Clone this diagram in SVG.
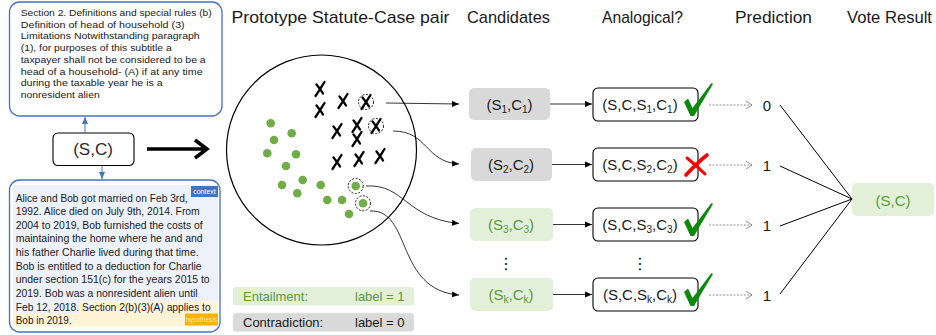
<svg xmlns="http://www.w3.org/2000/svg" width="936" height="335" viewBox="0 0 936 335">
<style>
text{font-family:"Liberation Sans",Arial,sans-serif;fill:#1a1a1a}
.hdr{font-size:17px}
.body1{font-size:9.5px}
.body2{font-size:10.3px}
.big{font-size:15px}
.grn{fill:#5B9A3B}
.gbox{fill:#E2F0D9}
.gray{fill:#D9D9D9}
.wbox{fill:#fff;stroke:#000;stroke-width:1.1}
.bluebox{fill:#fff;stroke:#4472C4;stroke-width:1.3}
.dot{fill:#70AD47}
.dc{fill:none;stroke:#000;stroke-width:0.9;stroke-dasharray:2 1.5}
.xm{fill:none;stroke:#000;stroke-width:2.3;stroke-linecap:round}
.conn{fill:none;stroke:#000;stroke-width:0.8}
.dash{fill:none;stroke:#777;stroke-width:0.8;stroke-dasharray:2 1.5}
.vote{fill:none;stroke:#000;stroke-width:1}
.chk{fill:#0B8A0B}
.vd{fill:#1a1a1a}
</style>
<defs>
<marker id="af" markerUnits="userSpaceOnUse" markerWidth="8" markerHeight="7" refX="7" refY="3.5" orient="auto"><path d="M0,0.5 L7,3.5 L0,6.5 z" fill="#000"/></marker>
<marker id="ab" markerUnits="userSpaceOnUse" markerWidth="8" markerHeight="7" refX="7" refY="3.5" orient="auto"><path d="M0,0.5 L7,3.5 L0,6.5 z" fill="#4472C4"/></marker>
<marker id="ao" markerUnits="userSpaceOnUse" markerWidth="9" markerHeight="10" refX="7" refY="5" orient="auto"><path d="M1,1 L7,5 L1,9" fill="none" stroke="#777" stroke-width="0.8"/></marker>
<path id="xs" class="xm" d="M4.5,-7 C2,-3 -1,2 -4.5,7 M-3.5,-4.5 C-1.5,-2 1,1 3,4.5"/>
<path id="ck" d="M0,19 L4,15.5 L8.5,25 L27.5,0 L29,1 L10,33 L6.5,33 Z"/>
</defs>

<g id="headers">
<text class="hdr" x="231.5" y="23" textLength="218" lengthAdjust="spacingAndGlyphs">Prototype Statute-Case pair</text>
<text class="hdr" x="467" y="23" textLength="83" lengthAdjust="spacingAndGlyphs">Candidates</text>
<text class="hdr" x="602" y="23" textLength="81" lengthAdjust="spacingAndGlyphs">Analogical?</text>
<text class="hdr" x="735" y="23" textLength="77" lengthAdjust="spacingAndGlyphs">Prediction</text>
<text class="hdr" x="847" y="23" textLength="85" lengthAdjust="spacingAndGlyphs">Vote Result</text>
</g>

<g id="statute-box">
<rect class="bluebox" x="9.5" y="2" width="212.5" height="114" rx="10"/>
<text class="body1" x="20.7" y="16" textLength="191" lengthAdjust="spacingAndGlyphs">Section 2. Definitions and special rules (b)</text>
<text class="body1" x="20.7" y="27.7" textLength="164" lengthAdjust="spacingAndGlyphs">Definition of head of household (3)</text>
<text class="body1" x="20.7" y="39.4" textLength="179" lengthAdjust="spacingAndGlyphs">Limitations Notwithstanding paragraph</text>
<text class="body1" x="20.7" y="51.1" textLength="151" lengthAdjust="spacingAndGlyphs">(1), for purposes of this subtitle a</text>
<text class="body1" x="20.7" y="62.8" textLength="185" lengthAdjust="spacingAndGlyphs">taxpayer shall not be considered to be a</text>
<text class="body1" x="20.7" y="74.5" textLength="182" lengthAdjust="spacingAndGlyphs">head of a household- (A) if at any time</text>
<text class="body1" x="20.7" y="86.2" textLength="142" lengthAdjust="spacingAndGlyphs">during the taxable year he is a</text>
<text class="body1" x="20.7" y="97.9" textLength="79" lengthAdjust="spacingAndGlyphs">nonresident alien</text>
</g>

<g id="node-sc">
<rect class="wbox" x="53" y="133" width="81" height="32.5" rx="5"/>
<text x="93" y="155" font-size="17" text-anchor="middle" style="fill:#2a2a2a">(S,C)</text>
</g>

<g id="case-box">
<rect class="bluebox" x="9.5" y="180" width="210.5" height="152" rx="10"/>
<path d="M13,185 H218 V301.5 H80 V313 H13 Z" fill="#EDF2FA"/>
<path d="M80,301.5 H218 V326.5 H13 V313 H80 Z" fill="#FFF4D6"/>
<text class="body2" x="15.7" y="201.5" textLength="172" lengthAdjust="spacingAndGlyphs" font-size="9.8">Alice and Bob got married on Feb 3rd,</text>
<text class="body2" x="15.7" y="215.1" textLength="184" lengthAdjust="spacingAndGlyphs">1992. Alice died on July 9th, 2014. From</text>
<text class="body2" x="15.7" y="228.8" textLength="187" lengthAdjust="spacingAndGlyphs">2004 to 2019, Bob furnished the costs of</text>
<text class="body2" x="15.7" y="242.4" textLength="187" lengthAdjust="spacingAndGlyphs">maintaining the home where he and and</text>
<text class="body2" x="15.7" y="256" textLength="183" lengthAdjust="spacingAndGlyphs">his father Charlie lived during that time.</text>
<text class="body2" x="15.7" y="269.7" textLength="186" lengthAdjust="spacingAndGlyphs">Bob is entitled to a deduction for Charlie</text>
<text class="body2" x="15.7" y="283.3" textLength="194" lengthAdjust="spacingAndGlyphs">under section 151(c) for the years 2015 to</text>
<text class="body2" x="15.7" y="296.9" textLength="182" lengthAdjust="spacingAndGlyphs">2019. Bob was a nonresident alien until</text>
<text class="body2" x="15.7" y="310.5" textLength="195" lengthAdjust="spacingAndGlyphs">Feb 12, 2018. Section 2(b)(3)(A) applies to</text>
<text class="body2" x="15.7" y="324.2" textLength="56" lengthAdjust="spacingAndGlyphs">Bob in 2019.</text>
<rect x="191" y="186" width="27" height="11" fill="#4472C4"/>
<text x="204.5" y="194" font-size="7" text-anchor="middle" style="fill:#fff">context</text>
<rect x="185" y="313.5" width="33" height="12" fill="#F5B400"/>
<text x="201.5" y="321.8" font-size="6.5" text-anchor="middle" style="fill:#FFE9A8">hypothesis</text>
</g>

<g id="prototype-space">
<circle cx="321.5" cy="150" r="95" fill="none" stroke="#000" stroke-width="1.2"/>
<use href="#xs" x="320" y="89"/>
<use href="#xs" x="320" y="110"/>
<use href="#xs" x="343" y="101"/>
<use href="#xs" x="366" y="102"/>
<use href="#xs" x="337" y="131"/>
<use href="#xs" x="357" y="125"/>
<use href="#xs" x="357" y="139"/>
<use href="#xs" x="376" y="126"/>
<use href="#xs" x="337" y="162"/>
<use href="#xs" x="359" y="159"/>
<use href="#xs" x="380" y="156"/>
<circle class="dc" cx="366" cy="102" r="7.5"/>
<circle class="dc" cx="376" cy="126" r="7.5"/>
<circle class="dot" cx="270.7" cy="123.3" r="4.3"/>
<circle class="dot" cx="291.7" cy="133.3" r="4.3"/>
<circle class="dot" cx="274" cy="140" r="4.3"/>
<circle class="dot" cx="267.3" cy="153.3" r="4.3"/>
<circle class="dot" cx="296" cy="154.3" r="4.3"/>
<circle class="dot" cx="286" cy="166" r="4.3"/>
<circle class="dot" cx="302.7" cy="180" r="4.3"/>
<circle class="dot" cx="282" cy="185" r="4.3"/>
<circle class="dot" cx="297.3" cy="193.3" r="4.3"/>
<circle class="dot" cx="320.7" cy="185" r="4.3"/>
<circle class="dot" cx="327.3" cy="200" r="4.3"/>
<circle class="dot" cx="342" cy="200" r="4.3"/>
<circle class="dot" cx="355.7" cy="186" r="4.3"/>
<circle class="dot" cx="363" cy="203.3" r="4.3"/>
<circle class="dot" cx="349" cy="214" r="4.3"/>
<circle class="dc" cx="355.7" cy="186" r="7.5"/>
<circle class="dc" cx="363" cy="203.3" r="7.5"/>
</g>

<g id="cand-1"><rect class="gray" x="469" y="88" width="81" height="32" rx="5"/>
<text class="big" x="509.5" y="109.5" text-anchor="middle">(S<tspan font-size="10" dy="3">1</tspan><tspan dy="-3">,C</tspan><tspan font-size="10" dy="3">1</tspan><tspan dy="-3">)</tspan></text></g>
<g id="cand-2"><rect class="gray" x="471" y="148" width="81" height="33" rx="5"/>
<text class="big" x="511" y="170" text-anchor="middle">(S<tspan font-size="10" dy="3">2</tspan><tspan dy="-3">,C</tspan><tspan font-size="10" dy="3">2</tspan><tspan dy="-3">)</tspan></text></g>
<g id="cand-3"><rect class="gbox" x="470" y="208" width="83" height="33" rx="5"/>
<text class="big grn" x="511" y="230" text-anchor="middle">(S<tspan font-size="10" dy="3">3</tspan><tspan dy="-3">,C</tspan><tspan font-size="10" dy="3">3</tspan><tspan dy="-3">)</tspan></text></g>
<g id="cand-k"><rect class="gbox" x="470" y="278" width="83" height="33" rx="5"/>
<text class="big grn" x="511" y="300" text-anchor="middle">(S<tspan font-size="10" dy="3">k</tspan><tspan dy="-3">,C</tspan><tspan font-size="10" dy="3">k</tspan><tspan dy="-3">)</tspan></text></g>
<g id="vdots-1"><text class="vd" x="506" y="269" font-size="16" text-anchor="middle" style="font-family:'DejaVu Sans',sans-serif">⋮</text></g>

<g id="analog-1"><rect class="wbox" x="593" y="88" width="105" height="33" rx="5"/>
<text class="big" x="640" y="110" text-anchor="middle">(S,C,S<tspan font-size="10" dy="3">1</tspan><tspan dy="-3">,C</tspan><tspan font-size="10" dy="3">1</tspan><tspan dy="-3">)</tspan></text>
<use href="#ck" x="684" y="83" class="chk"/></g>
<g id="analog-2"><rect class="wbox" x="593" y="148" width="105" height="33" rx="5"/>
<text class="big" x="640" y="170" text-anchor="middle">(S,C,S<tspan font-size="10" dy="3">2</tspan><tspan dy="-3">,C</tspan><tspan font-size="10" dy="3">2</tspan><tspan dy="-3">)</tspan></text>
<path d="M707,155 Q697,163 686,175" fill="none" stroke="#F00" stroke-width="3.6" stroke-linecap="round"/>
<path d="M687,158 Q697,166 705,174" fill="none" stroke="#F00" stroke-width="3" stroke-linecap="round"/></g>
<g id="analog-3"><rect class="wbox" x="593" y="208" width="105" height="33" rx="5"/>
<text class="big" x="640" y="230" text-anchor="middle">(S,C,S<tspan font-size="10" dy="3">3</tspan><tspan dy="-3">,C</tspan><tspan font-size="10" dy="3">3</tspan><tspan dy="-3">)</tspan></text>
<use href="#ck" x="684" y="203" class="chk"/></g>
<g id="analog-k"><rect class="wbox" x="593" y="278" width="105" height="33" rx="5"/>
<text class="big" x="640" y="300" text-anchor="middle">(S,C,S<tspan font-size="10" dy="3">k</tspan><tspan dy="-3">,C</tspan><tspan font-size="10" dy="3">k</tspan><tspan dy="-3">)</tspan></text>
<use href="#ck" x="684" y="273" class="chk"/></g>
<g id="vdots-2"><text class="vd" x="640" y="269" font-size="16" text-anchor="middle" style="font-family:'DejaVu Sans',sans-serif">⋮</text></g>

<g id="predictions">
<text class="big" x="767" y="110.5" text-anchor="middle">0</text>
<text class="big" x="767" y="170.5" text-anchor="middle">1</text>
<text class="big" x="767" y="230.5" text-anchor="middle">1</text>
<text class="big" x="767" y="300.5" text-anchor="middle">1</text>
</g>

<g id="vote-result"><rect class="gbox" x="852" y="183" width="82" height="33" rx="5"/>
<text class="big grn" x="893" y="205.5" text-anchor="middle">(S,C)</text></g>

<g id="legend">
<rect class="gbox" x="233" y="287" width="181" height="18.5" rx="3"/>
<text class="grn" x="243" y="301" font-size="13">Entailment:</text>
<text class="grn" x="355" y="301" font-size="13">label = 1</text>
<rect x="233" y="313" width="181" height="18.5" rx="3" fill="#D9D9D9" stroke="#EBEBEB" stroke-width="0.8"/>
<text x="243" y="327" font-size="13">Contradiction:</text>
<text x="355" y="327" font-size="13">label = 0</text>
</g>

<g id="connectors">
<line x1="85" y1="133" x2="85" y2="117" stroke="#4472C4" stroke-width="1" marker-end="url(#ab)"/>
<line x1="102" y1="165.5" x2="102" y2="179" stroke="#4472C4" stroke-width="1" marker-end="url(#ab)"/>
<path d="M147,149 H206 M195,140 L207,149 L195,158" fill="none" stroke="#000" stroke-width="3.5" stroke-linejoin="miter"/>
<path class="conn" d="M386,103 L459,104" marker-end="url(#af)"/>
<path class="conn" d="M393,131 C428,131 425,162 459,164" marker-end="url(#af)"/>
<path class="conn" d="M366,186 C405,184 405,218 459,223.5" marker-end="url(#af)"/>
<path class="conn" d="M370,211 C412,209 395,290 459,295" marker-end="url(#af)"/>
<line class="conn" x1="550" y1="104" x2="592" y2="104" marker-end="url(#af)"/>
<line class="conn" x1="552" y1="164.5" x2="592" y2="164.5" marker-end="url(#af)"/>
<line class="conn" x1="553" y1="224.5" x2="592" y2="224.5" marker-end="url(#af)"/>
<line class="conn" x1="553" y1="294.5" x2="592" y2="294.5" marker-end="url(#af)"/>
<line class="dash" x1="709" y1="105" x2="752" y2="105" marker-end="url(#ao)"/>
<line class="dash" x1="709" y1="165" x2="752" y2="165" marker-end="url(#ao)"/>
<line class="dash" x1="709" y1="225" x2="752" y2="225" marker-end="url(#ao)"/>
<line class="dash" x1="709" y1="295" x2="752" y2="295" marker-end="url(#ao)"/>
<line class="vote" x1="780" y1="105" x2="852" y2="199"/>
<line class="vote" x1="780" y1="166" x2="852" y2="199"/>
<line class="vote" x1="780" y1="226" x2="852" y2="199"/>
<line class="vote" x1="780" y1="294" x2="852" y2="199"/>
</g>
</svg>
